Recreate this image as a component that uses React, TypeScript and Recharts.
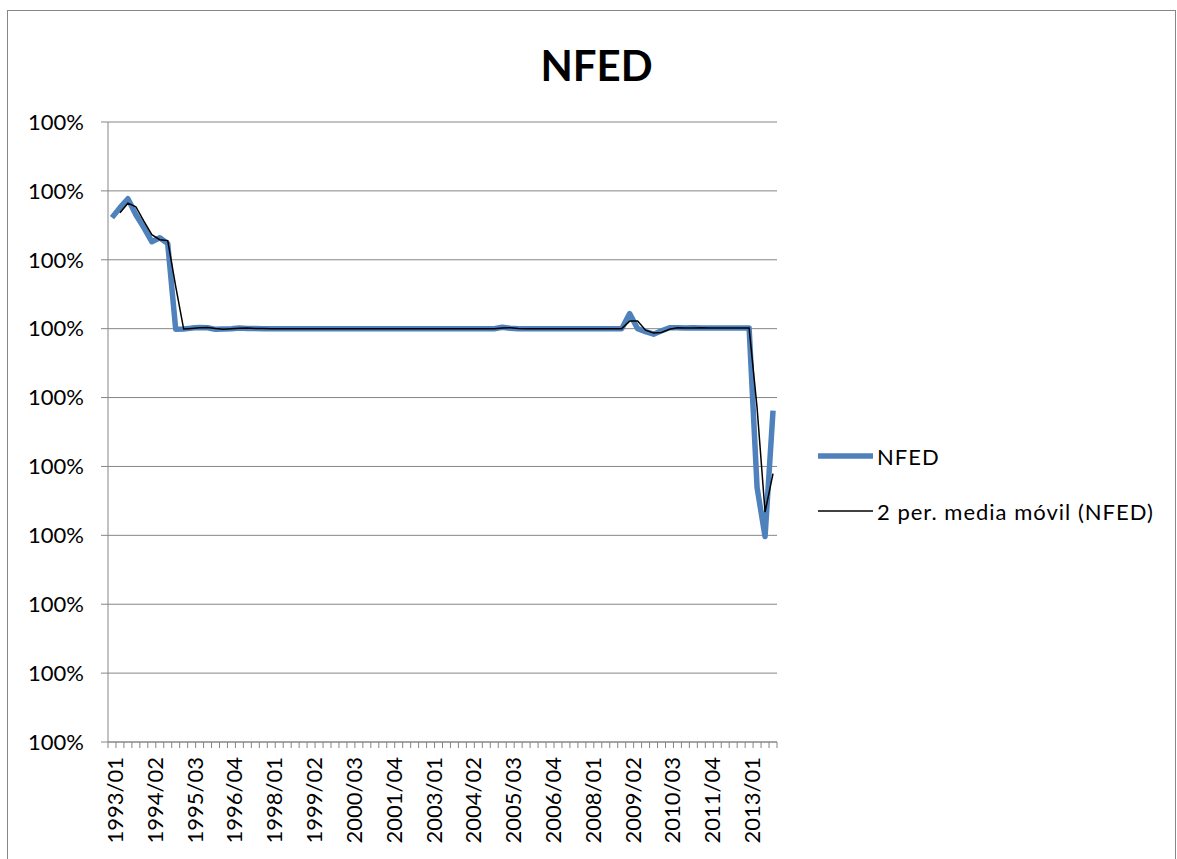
import { LineChart, Line, XAxis, YAxis, CartesianGrid, Legend } from 'recharts';

// quarterly categories 1993/01 .. 2013/04
const YEARS = [1993, 1994, 1995, 1996, 1997, 1998, 1999, 2000, 2001, 2002, 2003, 2004, 2005, 2006, 2007, 2008, 2009, 2010, 2011, 2012, 2013];
const QUARTERS: string[] = [];
YEARS.forEach((y) => {
    ['01', '02', '03', '04'].forEach((q) => QUARTERS.push(`${y}/${q}`));
});

const NFED = [
    1.000806, 1.000878, 1.000943, 1.000827, 1.000733, 1.000631, 1.00066, 1.000617,
    0.999996, 0.999998, 1.000004, 1.000008, 1.000007, 0.999995, 0.999997, 1.0,
    1.000005, 1.000002, 1.000001, 1.0,
    1.0, 1.0, 1.0, 1.0, 1.0, 1.0, 1.0, 1.0, 1.0, 1.0,
    1.0, 1.0, 1.0, 1.0, 1.0, 1.0, 1.0, 1.0, 1.0, 1.0,
    1.0, 1.0, 1.0, 1.0, 1.0, 1.0, 1.0, 1.0, 1.0,
    1.00001, 1.000003,
    1.0, 1.0, 1.0, 1.0, 1.0, 1.0, 1.0, 1.0, 1.0, 1.0, 1.0, 1.0, 1.0,
    1.0, 1.000109, 1.0, 0.999978, 0.99996, 0.999985, 1.000007, 1.000006,
    1.000004, 1.000006, 1.000005, 1.000004, 1.000004, 1.000004, 1.000004, 1.000004,
    1.000004, 0.998846, 0.998491, 0.999405,
];

// 2 per. media móvil
const MEDIA_MOVIL = [
    null, 1.000842, 1.000911, 1.000885, 1.00078, 1.000682, 1.000646, 1.000639,
    1.000307, 0.999997, 1.000001, 1.000006, 1.000008, 1.000001, 0.999996, 0.999999,
    1.000003, 1.000004, 1.000002, 1.000001,
    1.0, 1.0, 1.0, 1.0, 1.0, 1.0, 1.0, 1.0, 1.0, 1.0,
    1.0, 1.0, 1.0, 1.0, 1.0, 1.0, 1.0, 1.0, 1.0, 1.0,
    1.0, 1.0, 1.0, 1.0, 1.0, 1.0, 1.0, 1.0, 1.0,
    1.000005, 1.000007,
    1.000002, 1.0, 1.0, 1.0, 1.0, 1.0, 1.0, 1.0, 1.0, 1.0, 1.0, 1.0, 1.0,
    1.0, 1.000055, 1.000055, 0.999989, 0.999969, 0.999973, 0.999996, 1.000007,
    1.000005, 1.000005, 1.000006, 1.000005, 1.000004, 1.000004, 1.000004, 1.000004,
    1.000004, 0.999425, 0.998669, 0.998948,
];

const Y_TICKS = [0.997, 0.9975, 0.998, 0.9985, 0.999, 0.9995, 1.0, 1.0005, 1.001, 1.0015];

const data = QUARTERS.map((q, i) => ({ q, nfed: NFED[i], mm: MEDIA_MOVIL[i] }));

const GRID = '#868686';
const BLUE = '#4f81bd';
const FONT = 'Lato, "Open Sans", sans-serif';

const PLOT_LEFT = 108;
const PLOT_RIGHT = 777;
const BAND = (PLOT_RIGHT - PLOT_LEFT) / QUARTERS.length;

// excel-style category ticks: marks between categories, label every 5th
function QuarterTick(props: any) {
    const { x, y, payload } = props;
    const i = payload.index;
    const left = x - BAND / 2;
    return (
        <g>
            <line x1={left} x2={left} y1={y} y2={y + 6} stroke={GRID} />
            {i === QUARTERS.length - 1 && (
                <line x1={x + BAND / 2} x2={x + BAND / 2} y1={y} y2={y + 6} stroke={GRID} />
            )}
            {i % 5 === 0 && (
                <text
                    x={x}
                    y={y + 15}
                    dy={11}
                    textAnchor="end"
                    transform={`rotate(-90 ${x} ${y + 15})`}
                    fontSize={22}
                    fill="#000"
                >
                    {payload.value}
                </text>
            )}
        </g>
    );
}

function LegendBox() {
    const rows = [
        { label: 'NFED', color: BLUE, width: 5.5 },
        { label: '2 per. media móvil (NFED)', color: '#000', width: 1.5 },
    ];
    return (
        <div style={{ fontFamily: FONT, fontSize: 22, color: '#000', letterSpacing: 1 }}>
            {rows.map((r) => (
                <div key={r.label} style={{ display: 'flex', alignItems: 'center', height: 36, marginBottom: 19 }}>
                    <svg width={59} height={12} style={{ display: 'block' }}>
                        <line x1={0} x2={55} y1={6} y2={6} stroke={r.color} strokeWidth={r.width} />
                    </svg>
                    <span style={{ whiteSpace: 'nowrap' }}>{r.label}</span>
                </div>
            ))}
        </div>
    );
}

export default function App() {
    return (
        <div style={{ position: 'absolute', left: 0, top: 0, width: 1177, height: 859, overflow: 'hidden', background: '#fff' }}>
            {/* chart frame, runs off the right/bottom like the screenshot */}
            <div style={{ position: 'absolute', left: 7, top: 10, width: 1167, height: 900, border: `1px solid ${GRID}` }} />
            <div
                style={{
                    position: 'absolute',
                    left: 8,
                    width: 1177,
                    top: 40,
                    textAlign: 'center',
                    fontFamily: FONT,
                    fontWeight: 700,
                    fontSize: 42,
                    lineHeight: '50px',
                }}
            >
                NFED
            </div>
            <div style={{ position: 'absolute', left: 0, top: 0 }}>
                <LineChart
                    width={1177}
                    height={859}
                    data={data}
                    margin={{ top: 122, right: 1177 - PLOT_RIGHT, bottom: 0, left: 0 }}
                    style={{ fontFamily: FONT }}
                >
                    <CartesianGrid vertical={false} stroke={GRID} />
                    <XAxis
                        dataKey="q"
                        height={117}
                        interval={0}
                        padding={{ left: BAND / 2, right: BAND / 2 }}
                        tickSize={0}
                        tickMargin={0}
                        tickLine={false}
                        axisLine={{ stroke: GRID }}
                        tick={<QuarterTick />}
                    />
                    <YAxis
                        width={PLOT_LEFT}
                        domain={[0.997, 1.0015]}
                        ticks={Y_TICKS}
                        tickSize={7}
                        tickMargin={17}
                        axisLine={{ stroke: GRID }}
                        tickLine={{ stroke: GRID }}
                        tick={{ fontSize: 22, fill: '#000' }}
                        tickFormatter={(v: number) => `${Math.round(v * 100)}%`}
                    />
                    <Legend
                        layout="vertical"
                        align="center"
                        verticalAlign="middle"
                        content={<LegendBox />}
                        wrapperStyle={{ left: 818, top: 438, width: 359 }}
                    />
                    <Line
                        type="linear"
                        dataKey="nfed"
                        stroke={BLUE}
                        strokeWidth={5.5}
                        strokeLinejoin="round"
                        dot={false}
                        isAnimationActive={false}
                    />
                    <Line
                        type="linear"
                        dataKey="mm"
                        stroke="#000"
                        strokeWidth={1.5}
                        dot={false}
                        connectNulls={false}
                        isAnimationActive={false}
                    />
                </LineChart>
            </div>
        </div>
    );
}
